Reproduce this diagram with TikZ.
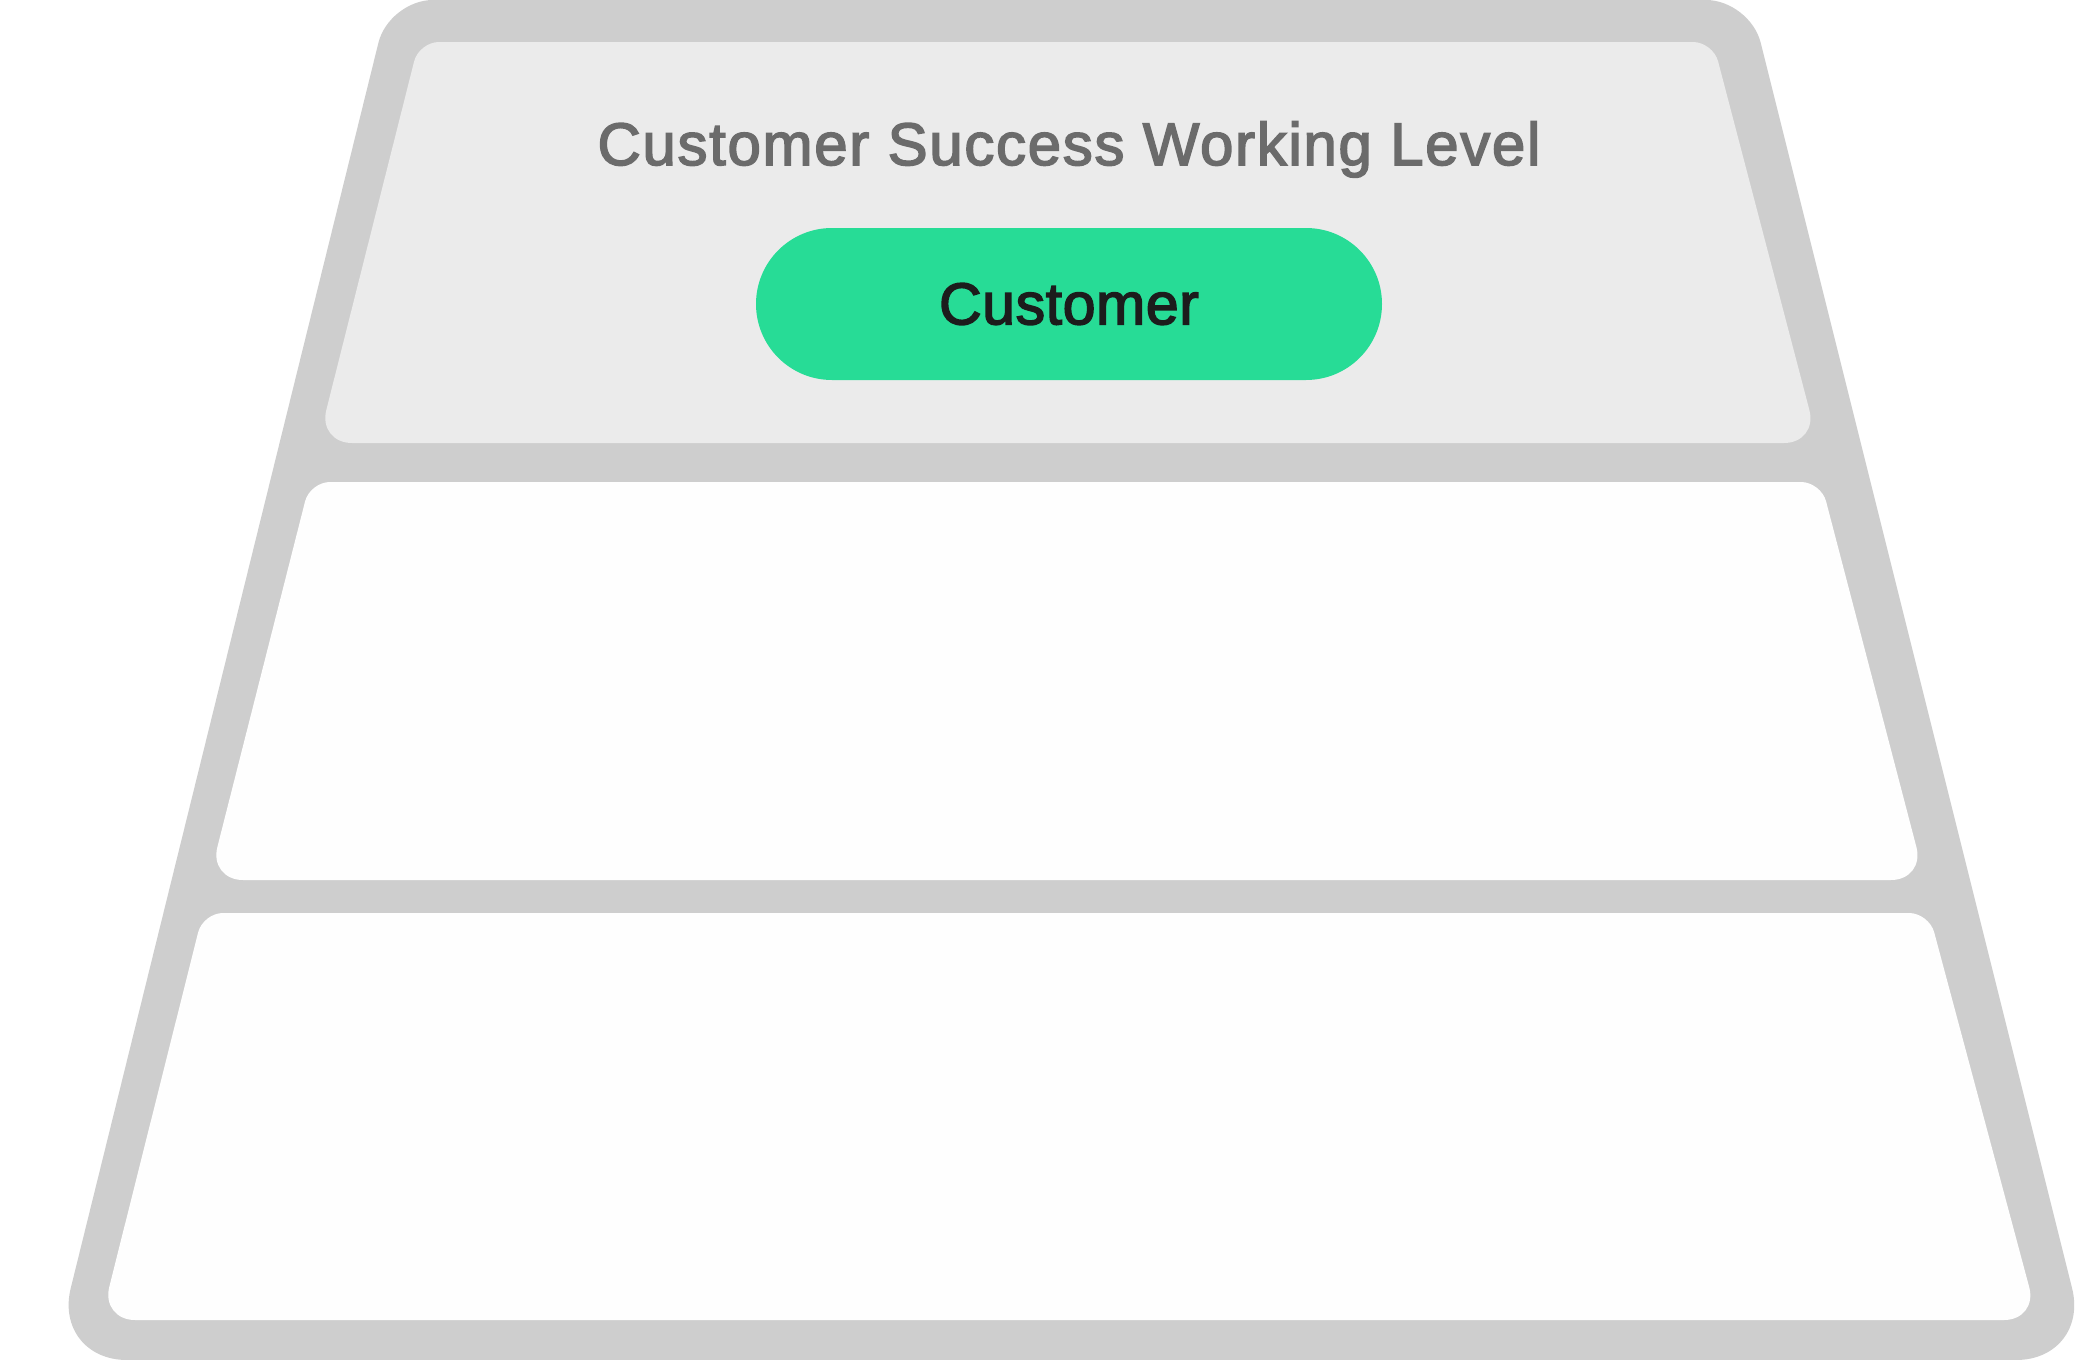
\documentclass[tikz,border=0pt]{standalone}
\usepackage{fontspec}
\setmainfont{Liberation Sans}
\newfontfamily\midfont[FakeBold=2.6,LetterSpace=2.8]{Liberation Sans}
\newfontfamily\pillfont[FakeBold=2.6,LetterSpace=1]{Liberation Sans}
\definecolor{framegray}{HTML}{CECECE}
\definecolor{toptier}{HTML}{EBEBEB}
\definecolor{lowtier}{HTML}{FEFEFE}
\definecolor{pillgreen}{HTML}{27DC96}
\definecolor{titlegray}{HTML}{6B6B6B}
\definecolor{inkdark}{HTML}{1C1C1C}
\tikzset{
  topround/.style={rounded corners=10pt},
  botround/.style={rounded corners=17pt},
  leveltitle/.style={text=titlegray, font=\midfont\fontsize{30}{36}\selectfont, anchor=base},
  pill/.style={fill=pillgreen, text=inkdark, rounded corners=38pt, minimum width=313pt,
    minimum height=76pt, inner sep=0pt, font=\pillfont\fontsize{29.5}{34}\selectfont}
}
\begin{document}
\begin{tikzpicture}[x=0.5pt,y=-0.5pt]
\useasboundingbox (0,0) rectangle (2090,1360);
\fill[white] (0,0) rectangle (2090,1360);
% outer frame
\fill[framegray] (1069,0) [rounded corners=22pt]--(1750,0) [rounded corners=37pt]--(2090,1360)--(53,1360)
  [rounded corners=22pt]--(389,0)--cycle;
% three tiers
\fill[toptier] (1066,42) [topround]--(1713,42) [botround]--(1818,443)--(318,443) [topround]--(419,42)--cycle;
\fill[lowtier] (1066,482) [topround]--(1821,482) [botround]--(1925,880)--(209,880) [topround]--(310,482)--cycle;
\fill[lowtier] (1066,913) [topround]--(1929,913) [botround]--(2038,1320)--(101,1320) [topround]--(203,913)--cycle;

\node[leveltitle] (lvl) at (1069,165) {Customer Success Working Level};
\node[pill] (cust) at (1069,304) {Customer};
\end{tikzpicture}
\end{document}
